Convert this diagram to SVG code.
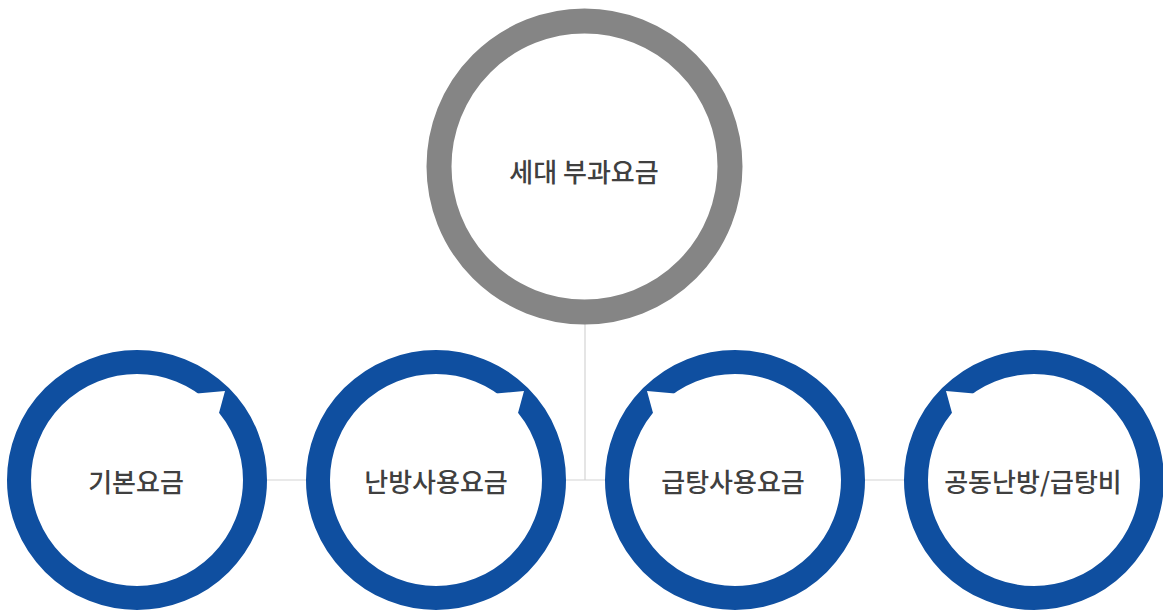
<svg xmlns="http://www.w3.org/2000/svg" width="1163" height="610" viewBox="0 0 1163 610">
<style>
.lbl{font-family:"Noto Sans CJK KR","Noto Sans",sans-serif;font-size:26px;font-weight:500;fill:#404040;text-anchor:middle;dominant-baseline:central}
.ring{fill:#fff;stroke:#0f4fa0;stroke-width:24}
.top{fill:#fff;stroke:#858585;stroke-width:25}
.notch{fill:#fff}
.conn{stroke:#d4d4d4;stroke-width:1.2;fill:none}
</style>
<defs>
<polygon id="notchR" class="notch" points="60,-86.5 88,-89 82,-67 60,-60"/>
<polygon id="notchL" class="notch" points="-60,-86.5 -88,-89 -82,-67 -60,-60"/>
</defs>
<rect width="1163" height="610" fill="#fff"/>
<g id="connectors">
<line class="conn" x1="137" y1="480" x2="1034" y2="480"/>
<line class="conn" x1="585" y1="320" x2="585" y2="480"/>
</g>
<g id="node-top">
<circle class="top" cx="584.5" cy="166.5" r="145.5"/>
<text class="lbl" x="584" y="170.5">세대 부과요금</text>
</g>
<g id="node-1">
<circle class="ring" cx="137" cy="480" r="118"/>
<use href="#notchR" x="137" y="480"/>
<text class="lbl" x="136" y="480">기본요금</text>
</g>
<g id="node-2">
<circle class="ring" cx="436" cy="480" r="118"/>
<use href="#notchR" x="436" y="480"/>
<text class="lbl" x="436" y="480">난방사용요금</text>
</g>
<g id="node-3">
<circle class="ring" cx="735" cy="480" r="118"/>
<use href="#notchL" x="735" y="480"/>
<text class="lbl" x="733" y="480">급탕사용요금</text>
</g>
<g id="node-4">
<circle class="ring" cx="1034" cy="480" r="118"/>
<use href="#notchL" x="1034" y="480"/>
<text class="lbl" x="1033" y="480">공동난방/급탕비</text>
</g>
</svg>
